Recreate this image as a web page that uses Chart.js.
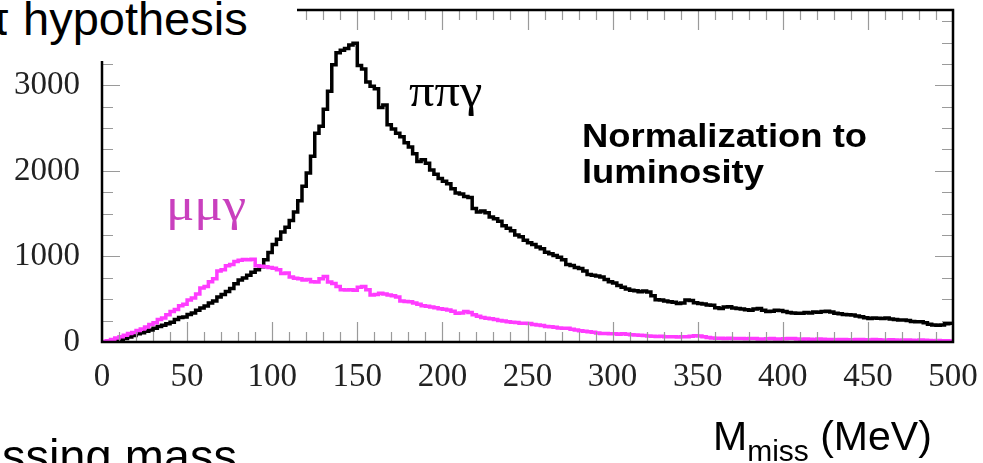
<!DOCTYPE html>
<html>
<head>
<meta charset="utf-8">
<script src="https://cdn.jsdelivr.net/npm/chart.js@4.4.1/dist/chart.umd.min.js"></script>
<style>
  html, body { margin: 0; padding: 0; background: #fff; }
  #wrap { position: relative; width: 983px; height: 463px; overflow: hidden; }
  #plot { position: absolute; left: 0; top: 0; }
  .txt { position: absolute; white-space: nowrap; line-height: 1; }
  .slide { font-family: "Liberation Sans", Arial, sans-serif; color: #000; }
  .greek { font-family: "Liberation Serif", "Times New Roman", serif; transform-origin: 0 0; }
  .note { font-family: "Liberation Sans", Arial, sans-serif; font-weight: bold; color: #000; transform-origin: 0 0; transform: scaleX(1.07); }
  #titleBox { position: absolute; left: 0; top: 0; width: 297px; height: 61px; background: #fff; }
</style>
</head>
<body>
<div id="wrap">
  <canvas id="plot" width="983" height="463"></canvas>

  <!-- white text box of the slide, sits over the corner of the frame -->
  <div id="titleBox"></div>
  <div class="txt slide" style="left:23px; top:-5px; font-size:47px;"><span style="position:absolute; right:100%;">π&nbsp;</span>hypothesis</div>

  <div class="txt greek" style="left:409px; top:68px; font-size:46px; color:#000; transform:scaleX(1.1);">ππγ</div>
  <div class="txt greek" style="left:166px; top:182px; font-size:46px; color:#c940be; transform:scaleX(1.15);">μμγ</div>
  <div class="txt note" style="left:582px; top:118px; font-size:34px;">Normalization to</div>
  <div class="txt note" style="left:582px; top:154px; font-size:34px;">luminosity</div>

  <div class="txt slide" style="left:713px; top:416px; font-size:41px;">M<span style="font-size:30px; position:relative; top:11px;">miss</span> (MeV)</div>
  <div class="txt slide" style="right:746px; top:432px; font-size:47px;">Missing mass</div>
</div>

<script>
// histogram binning in MeV
const BIN_WIDTH = 2.5;
const X_MAX = 500;
const Y_MAX = 3880;

// counts per 2.5 MeV bin, pi pi gamma hypothesis
const pipigamma = [
  0, 3, 8, 14, 25, 42, 58, 75, 95, 108,
  125, 140, 160, 182, 195, 212, 230, 262, 285, 292,
  322, 340, 372, 398, 420, 455, 480, 525, 555, 590,
  625, 680, 725, 748, 780, 815, 845, 880, 960, 1045,
  1140, 1200, 1285, 1340, 1420, 1520, 1650, 1820, 1975, 2170,
  2440, 2520, 2720, 2930, 3240, 3380, 3410, 3430, 3470, 3490,
  3230, 3190, 3040, 2990, 2960, 2740, 2770, 2540, 2490, 2440,
  2400, 2330, 2280, 2200, 2110, 2130, 2090, 2010, 1960, 1910,
  1880, 1850, 1790, 1740, 1730, 1700, 1690, 1560, 1520, 1530,
  1510, 1460, 1440, 1410, 1360, 1330, 1300, 1250, 1230, 1190,
  1160, 1140, 1110, 1090, 1050, 1030, 1010, 990, 960, 905,
  895, 870, 860, 830, 790, 780, 770, 760, 730, 705,
  690, 660, 640, 620, 605, 600, 588, 595, 585, 540,
  495, 490, 480, 470, 465, 450, 455, 490, 485, 460,
  450, 445, 432, 430, 400, 392, 410, 412, 398, 392,
  385, 378, 372, 385, 392, 370, 355, 360, 372, 368,
  355, 345, 340, 336, 335, 345, 340, 352, 348, 355,
  358, 350, 335, 330, 322, 318, 316, 305, 295, 282,
  276, 280, 278, 275, 280, 270, 262, 256, 258, 250,
  240, 236, 238, 225, 208, 200, 196, 200, 212, 218
];

// counts per 2.5 MeV bin, mu mu gamma hypothesis
const mumugamma = [
  5, 15, 30, 48, 62, 78, 100, 112, 135, 152,
  175, 205, 225, 262, 280, 318, 355, 380, 425, 440,
  490, 515, 560, 630, 650, 705, 740, 830, 845, 890,
  905, 940, 955, 965, 960, 968, 890, 885, 880, 870,
  862, 845, 800, 805, 760, 745, 740, 725, 730, 705,
  700, 740, 765, 700, 685, 650, 610, 608, 612, 605,
  640, 648, 610, 550, 555, 570, 560, 548, 540, 525,
  480, 472, 470, 455, 440, 425, 418, 410, 400, 390,
  382, 375, 360, 335, 340, 355, 345, 318, 300, 285,
  278, 272, 262, 252, 245, 238, 232, 228, 220, 218,
  215, 205, 198, 192, 180, 178, 172, 165, 162, 160,
  150, 140, 132, 125, 120, 115, 105, 100, 98, 95,
  96, 92, 95, 90, 85, 82, 80, 76, 70, 68,
  65, 66, 62, 60, 62, 58, 62, 60, 66, 74,
  70, 60, 52, 48, 45, 44, 42, 45, 40, 42,
  40, 38, 42, 40, 36, 35, 38, 40, 36, 34,
  38, 40, 42, 36, 32, 34, 32, 30, 34, 32,
  28, 30, 26, 28, 30, 27, 25, 28, 30, 26,
  24, 28, 26, 22, 24, 25, 22, 20, 24, 22,
  20, 18, 22, 20, 18, 16, 18, 15, 14, 12
];

// labelled axis values
const xTicks = [0, 50, 100, 150, 200, 250, 300, 350, 400, 450, 500];
const yTicks = [0, 1000, 2000, 3000];

// spacing of the small tick marks
const X_MINOR = 10;
const Y_MINOR = 250;

// turn bin contents into step points: one point per lower bin edge plus the closing edge
function toSteps(counts) {
    const pts = counts.map((c, i) => ({ x: i * BIN_WIDTH, y: c }));
    pts.push({ x: counts.length * BIN_WIDTH, y: counts[counts.length - 1] });
    return pts;
}

// fixed axis sizes, no extra room for overhanging labels
function fixBox(size) {
    return (scale) => {
        if (scale.isHorizontal()) scale.height = size; else scale.width = size;
        scale.paddingTop = 0;
        scale.paddingBottom = 0;
        scale.paddingLeft = 0;
        scale.paddingRight = 0;
    };
}

// draws the black box and the inward ticks on all four sides
const frameTicks = {
    id: 'frameTicks',
    afterDatasetsDraw(chart) {
        const { ctx, chartArea: a, scales: { x, y } } = chart;
        ctx.save();
        ctx.strokeStyle = '#9a9a9a';
        ctx.lineWidth = 1.2;
        ctx.beginPath();
        for (let v = 0; v <= X_MAX; v += X_MINOR) {
            const px = Math.round(x.getPixelForValue(v)) + 0.5;
            const len = v % 50 === 0 ? 20 : 10;
            ctx.moveTo(px, a.bottom); ctx.lineTo(px, a.bottom - len);
            ctx.moveTo(px, a.top); ctx.lineTo(px, a.top + len);
        }
        for (let v = 0; v <= Y_MAX; v += Y_MINOR) {
            const py = Math.round(y.getPixelForValue(v)) + 0.5;
            const len = v % 1000 === 0 ? 18 : 11;
            ctx.moveTo(a.left, py); ctx.lineTo(a.left + len, py);
            ctx.moveTo(a.right, py); ctx.lineTo(a.right - len, py);
        }
        ctx.stroke();

        ctx.strokeStyle = '#000';
        ctx.lineWidth = 2.5;
        ctx.strokeRect(a.left, a.top, a.right - a.left, a.bottom - a.top);
        ctx.restore();
    }
};

const tickFont = { family: '"Liberation Serif", "Times New Roman", serif', size: 33 };

new Chart(document.getElementById('plot'), {
    type: 'line',
    data: {
        datasets: [
            {
                label: 'ππγ',
                data: toSteps(pipigamma),
                borderColor: '#000000',
                borderWidth: 3.5,
                stepped: true,
                pointRadius: 0,
                fill: false,
                order: 1
            },
            {
                label: 'μμγ',
                data: toSteps(mumugamma),
                borderColor: '#ff3cff',
                borderWidth: 3.5,
                stepped: true,
                pointRadius: 0,
                fill: false,
                order: 0
            }
        ]
    },
    options: {
        responsive: false,
        animation: false,
        devicePixelRatio: 1,
        layout: { padding: { left: 0, top: 10, right: 30, bottom: 0 } },
        plugins: {
            legend: { display: false },
            tooltip: { enabled: false }
        },
        scales: {
            x: {
                type: 'linear',
                min: 0,
                max: X_MAX,
                afterBuildTicks: (scale) => { scale.ticks = xTicks.map(v => ({ value: v })); },
                afterFit: fixBox(121),
                grid: { display: false, drawTicks: false },
                border: { display: false },
                ticks: { font: tickFont, color: '#222', padding: 16, maxRotation: 0, callback: (v) => String(v) }
            },
            y: {
                type: 'linear',
                min: 0,
                max: Y_MAX,
                afterBuildTicks: (scale) => { scale.ticks = yTicks.map(v => ({ value: v })); },
                afterFit: fixBox(102),
                grid: { display: false, drawTicks: false },
                border: { display: false },
                ticks: { font: tickFont, color: '#222', padding: 22, callback: (v) => String(v) }
            }
        }
    },
    plugins: [frameTicks]
});
</script>
</body>
</html>
